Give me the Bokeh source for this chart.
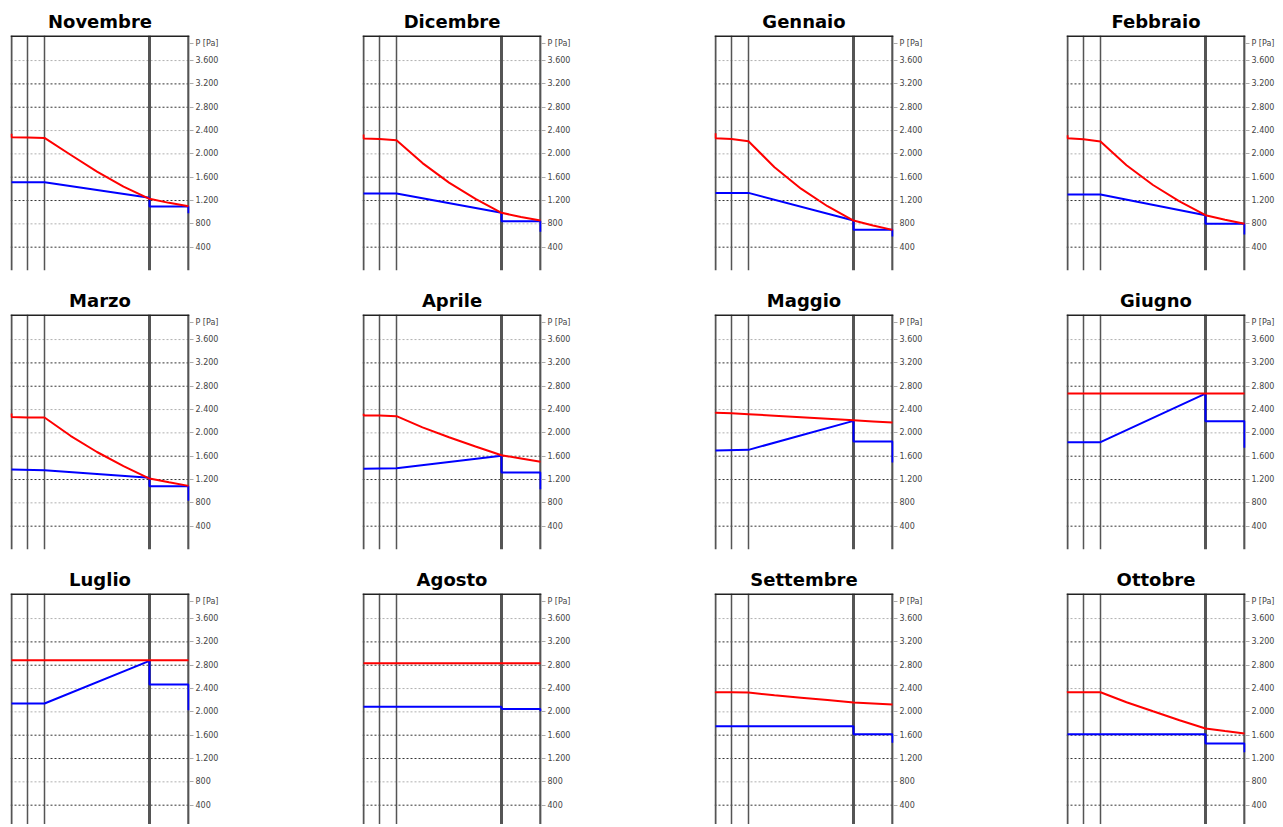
from bokeh.plotting import figure
from bokeh.models import Range1d, Span, LinearAxis, FixedTicker
from bokeh.layouts import row, column
from bokeh.embed import file_html
from bokeh.resources import INLINE

months = ["Novembre", "Dicembre", "Gennaio", "Febbraio",
          "Marzo", "Aprile", "Maggio", "Giugno",
          "Luglio", "Agosto", "Settembre", "Ottobre"]

# layer boundaries across the wall (horizontal units)
layer_bounds = [0, 16, 33, 138, 177]

# sample positions for saturation pressure (red) and vapour pressure (blue)
red_x = [0, 0, 16, 33, 59, 85.5, 112, 138, 157.5, 177]
blue_x = [0, 33, 138, 138, 177, 177]

red_nov = [2343, 2286, 2280, 2274, 1985, 1695, 1440, 1229, 1160, 1103]
red_dic = [2331, 2263, 2257, 2234, 1842, 1507, 1228, 989, 918, 857]
red_gen = [2354, 2269, 2257, 2217, 1771, 1403, 1102, 857, 772, 697]
red_feb = [2320, 2269, 2251, 2211, 1806, 1466, 1187, 949, 872, 800]
red_mar = [2331, 2274, 2263, 2263, 1950, 1672, 1431, 1217, 1153, 1091]
red_apr = [2326, 2297, 2297, 2286, 2095, 1925, 1766, 1617, 1560, 1503]
red_mag = [2350, 2343, 2335, 2320, 2294, 2268, 2243, 2217, 2197, 2177]
red_giu = [2674, 2674, 2674, 2674, 2674, 2674, 2674, 2674, 2674, 2674]
red_lug = [2886, 2886, 2886, 2886, 2886, 2886, 2886, 2886, 2886, 2886]
red_ago = [2834, 2834, 2834, 2834, 2834, 2834, 2834, 2834, 2834, 2834]
red_set = [2345, 2337, 2335, 2331, 2286, 2244, 2202, 2160, 2143, 2126]
red_ott = [2354, 2337, 2337, 2337, 2165, 2010, 1857, 1714, 1671, 1629]

blue_nov = [1514, 1514, 1246, 1097, 1097, 983]
blue_dic = [1320, 1320, 989, 846, 846, 663]
blue_gen = [1331, 1331, 857, 697, 697, 583]
blue_feb = [1303, 1303, 949, 800, 800, 617]
blue_mar = [1371, 1360, 1229, 1086, 1086, 834]
blue_apr = [1383, 1394, 1606, 1320, 1320, 1034]
blue_mag = [1697, 1709, 2206, 1851, 1851, 1491]
blue_giu = [1840, 1840, 2674, 2200, 2200, 1743]
blue_lug = [2143, 2143, 2874, 2469, 2469, 2029]
blue_ago = [2086, 2086, 2086, 2051, 2051, 2011]
blue_set = [1754, 1754, 1754, 1617, 1617, 1469]
blue_ott = [1617, 1617, 1617, 1457, 1457, 1309]

red_series = [red_nov, red_dic, red_gen, red_feb, red_mar, red_apr,
              red_mag, red_giu, red_lug, red_ago, red_set, red_ott]
blue_series = [blue_nov, blue_dic, blue_gen, blue_feb, blue_mar, blue_apr,
               blue_mag, blue_giu, blue_lug, blue_ago, blue_set, blue_ott]

tick_values = [400, 800, 1200, 1600, 2000, 2400, 2800, 3200, 3600]
tick_labels = ["400", "800", "1.200", "1.600", "2.000", "2.400", "2.800", "3.200", "3.600"]
axis_title = "P [Pa]"

# styling
Y_TOP = 4030
FRAME_H = 235
PA_PER_PX = Y_TOP / FRAME_H
TOP_B = 35
LEFT_B = 10
FRAME_W = 179
RIGHT_B = 33
FIG_W = LEFT_B + FRAME_W + RIGHT_B
COL_GAP = 352 - FIG_W
light_levels = {3600, 2400, 2000, 800}
layer_widths = [2, 1.5, 1.5, 3, 2.5]


def make_panel(i, fig_h, frame_h):
    y0 = Y_TOP - frame_h * PA_PER_PX
    p = figure(width=FIG_W, height=fig_h,
               x_range=Range1d(-1, 178), y_range=Range1d(y0, Y_TOP),
               x_axis_location=None, y_axis_location=None,
               output_backend="svg", toolbar_location=None,
               title=months[i])
    p.min_border_left = LEFT_B
    p.min_border_right = RIGHT_B
    p.min_border_top = TOP_B
    p.min_border_bottom = fig_h - TOP_B - frame_h
    p.outline_line_color = None
    p.background_fill_color = "white"
    p.border_fill_color = "white"
    p.xgrid.visible = False
    p.ygrid.visible = False

    p.title.text_font = "DejaVu Sans"
    p.title.text_font_size = "18px"
    p.title.text_font_style = "bold"
    p.title.text_color = "black"
    p.title.align = "center"
    p.title.standoff = 8

    # axis title shown as the top entry of the right-hand scale
    title_level = Y_TOP - 8 * PA_PER_PX
    ticks = tick_values + [title_level]
    labels = tick_labels + [axis_title]
    ax = LinearAxis(ticker=FixedTicker(ticks=ticks))
    ax.major_label_overrides = {v: s for v, s in zip(ticks, labels)}
    ax.axis_line_color = None
    ax.major_tick_in = 0
    ax.major_tick_out = 4
    ax.major_tick_line_color = "#aaaaaa"
    ax.minor_tick_line_color = None
    ax.major_label_standoff = 2
    ax.major_label_text_font = "DejaVu Sans"
    ax.major_label_text_font_size = "8px"
    ax.major_label_text_color = "#444444"
    p.add_layout(ax, "right")

    for v in tick_values:
        col = "#b0b0b0" if v in light_levels else "#333333"
        p.add_layout(Span(location=v, dimension="width", line_color=col,
                          line_width=1, line_dash="2 2", level="underlay"))

    for xb, w in zip(layer_bounds, layer_widths):
        p.add_layout(Span(location=xb, dimension="height",
                          line_color="#555555", line_width=w, level="underlay"))

    p.add_layout(Span(location=Y_TOP, dimension="width",
                      line_color="#222222", line_width=3, level="underlay"))

    p.line(blue_x, blue_series[i], line_color="#0000ff", line_width=2)
    p.line(red_x, red_series[i], line_color="#ff0000", line_width=2)
    return p


rows = []
for r in range(3):
    if r < 2:
        fh, frh = 279, FRAME_H
    else:
        fh, frh = 266, 266 - TOP_B
    figs = [make_panel(r * 4 + c, fh, frh) for c in range(4)]
    rows.append(row(*figs, spacing=COL_GAP))

layout = column(*rows, spacing=0)

open("out.html", "w").write(file_html(layout, INLINE))
